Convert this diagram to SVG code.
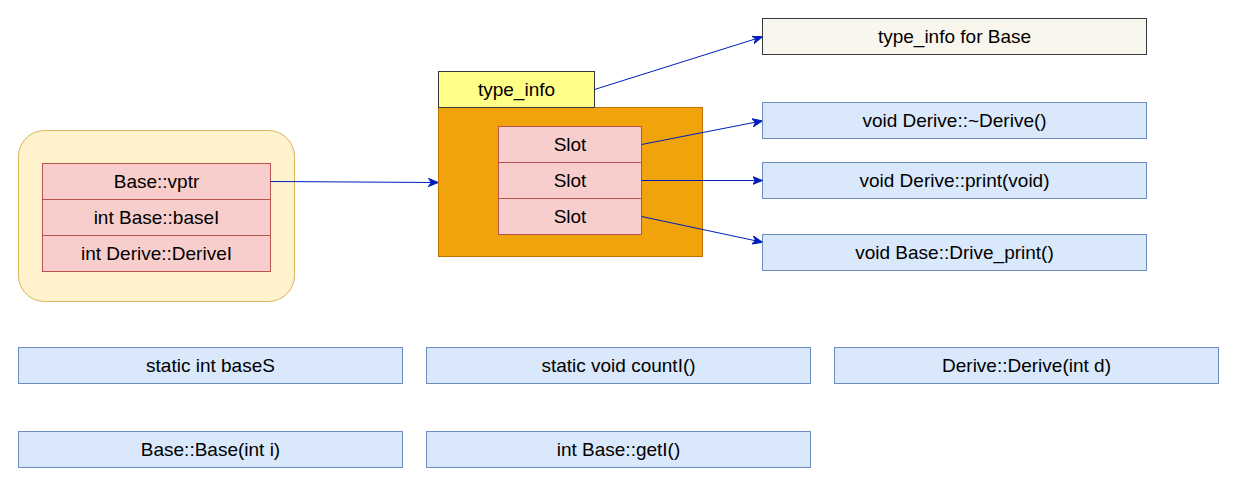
<svg xmlns="http://www.w3.org/2000/svg" width="1235" height="483" viewBox="0 0 1235 483">
  <style>
    text { font-family: "Liberation Sans", Arial, sans-serif; font-size: 19px; fill: #000; text-anchor: middle; dominant-baseline: central; }
    .field { fill: #f8cecc; stroke: #b85450; stroke-width: 1; }
    .fn { fill: #dae8fc; stroke: #6c8ebf; stroke-width: 1; }
    .edge { fill: none; stroke: #001dbc; stroke-width: 1; marker-end: url(#arrow); }
  </style>
  <defs>
    <marker id="arrow" viewBox="0 0 10 10" refX="9" refY="5" markerWidth="10" markerHeight="10" markerUnits="userSpaceOnUse" orient="auto">
      <path d="M0,1 L10,5 L0,9 L3,5 Z" fill="#001dbc" stroke="#001dbc" stroke-width="1"/>
    </marker>
  </defs>
  <rect width="1235" height="483" fill="#ffffff"/>

  <!-- object layout -->
  <g id="object">
    <rect x="18.5" y="130.5" width="276" height="171" rx="26" fill="#fff2cc" stroke="#d6b656"/>
    <rect class="field" x="42.5" y="163.5" width="228" height="36"/>
    <text x="156.5" y="181.5">Base::vptr</text>
    <rect class="field" x="42.5" y="199.5" width="228" height="36"/>
    <text x="156.5" y="217.5">int Base::baseI</text>
    <rect class="field" x="42.5" y="235.5" width="228" height="36"/>
    <text x="156.5" y="253.5">int Derive::DeriveI</text>
  </g>

  <!-- virtual table -->
  <g id="vtable">
    <rect x="438.5" y="107.5" width="264" height="149" fill="#f0a30a" stroke="#bd7000"/>
    <rect class="field" x="498.5" y="126.5" width="143" height="36"/>
    <text x="570" y="144.5">Slot</text>
    <rect class="field" x="498.5" y="162.5" width="143" height="36"/>
    <text x="570" y="180.5">Slot</text>
    <rect class="field" x="498.5" y="198.5" width="143" height="36"/>
    <text x="570" y="216.5">Slot</text>
  </g>

  <g id="typeinfo">
    <rect x="438.5" y="71.5" width="156" height="36" fill="#ffff88" stroke="#36393d"/>
    <text x="516.5" y="89.5">type_info</text>
  </g>

  <g id="typeinfo-base">
    <rect x="762.5" y="18.5" width="384" height="36" fill="#f9f7ed" stroke="#36393d"/>
    <text x="954.5" y="36.5">type_info for Base</text>
  </g>

  <g id="fn-dtor">
    <rect class="fn" x="762.5" y="102.5" width="384" height="36"/>
    <text x="954.5" y="120.5">void Derive::~Derive()</text>
  </g>
  <g id="fn-print">
    <rect class="fn" x="762.5" y="162.5" width="384" height="36"/>
    <text x="954.5" y="180.5">void Derive::print(void)</text>
  </g>
  <g id="fn-drive-print">
    <rect class="fn" x="762.5" y="234.5" width="384" height="36"/>
    <text x="954.5" y="252.5">void Base::Drive_print()</text>
  </g>

  <g id="static-base">
    <rect class="fn" x="18.5" y="347.5" width="384" height="36"/>
    <text x="210.5" y="365.5">static int baseS</text>
  </g>
  <g id="static-count">
    <rect class="fn" x="426.5" y="347.5" width="384" height="36"/>
    <text x="618.5" y="365.5">static void countI()</text>
  </g>
  <g id="derive-ctor">
    <rect class="fn" x="834.5" y="347.5" width="384" height="36"/>
    <text x="1026.5" y="365.5">Derive::Derive(int d)</text>
  </g>
  <g id="base-ctor">
    <rect class="fn" x="18.5" y="431.5" width="384" height="36"/>
    <text x="210.5" y="449.5">Base::Base(int i)</text>
  </g>
  <g id="base-geti">
    <rect class="fn" x="426.5" y="431.5" width="384" height="36"/>
    <text x="618.5" y="449.5">int Base::getI()</text>
  </g>

  <!-- connectors -->
  <g id="connectors">
    <path class="edge" d="M270.5,181.5 L437.5,182.5"/>
    <path class="edge" d="M594.5,89.5 L761.5,37"/>
    <path class="edge" d="M641.5,144.5 L761.5,121"/>
    <path class="edge" d="M641.5,180.5 L761.5,180.5"/>
    <path class="edge" d="M641.5,216.5 L761.5,242"/>
  </g>
</svg>
